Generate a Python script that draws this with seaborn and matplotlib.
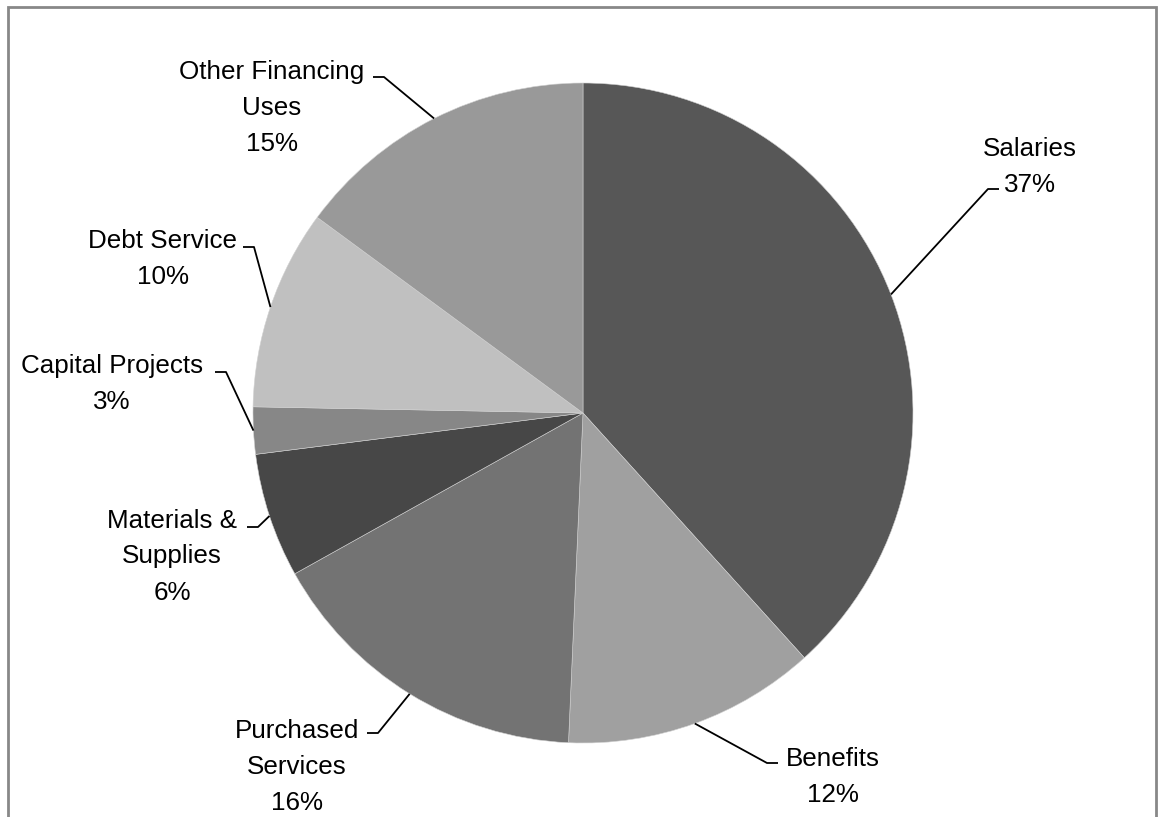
import numpy as np
import matplotlib
matplotlib.use("Agg")
import matplotlib.pyplot as plt
from matplotlib.patches import Rectangle
import seaborn as sns

# ---- data ----
categories = ["Salaries", "Benefits", "Purchased\nServices", "Materials &\nSupplies",
              "Capital Projects", "Debt Service", "Other Financing\nUses"]
shares = [38.3, 12.4, 16.2, 6.1, 2.3, 9.8, 14.9]          # slice sizes
pct_labels = ["37%", "12%", "16%", "6%", "3%", "10%", "15%"]  # printed percentages
colors = ["#575757", "#a0a0a0", "#737373", "#474747", "#878787", "#c0c0c0", "#999999"]

sns.set_theme(style="white")
plt.rcParams['font.family'] = ['Liberation Sans', 'DejaVu Sans']

W, H = 1160, 817
fig = plt.figure(figsize=(W / 100, H / 100), dpi=100)
ax = fig.add_axes([0, 0, 1, 1])

cx, cy, r = 583, H - 413, 330
wedges, _ = ax.pie(shares, colors=colors, startangle=90, counterclock=False,
                   center=(cx, cy), radius=r, frame=True,
                   wedgeprops=dict(linewidth=0.4, edgecolor="#d0d0d0"))
ax.set_xlim(0, W)
ax.set_ylim(0, H)
ax.set_aspect("auto")
ax.axis("off")

LS = 36  # line pitch in px
# label layout: (text center x, first line center y (px from top), elbow x, elbow y, side)
layout = [
    (1030, 146, 999, 189, "right"),
    (833, 757, 778, 763, "right"),
    (297, 728, 367, 733, "left"),
    (172, 518, 247, 527, "left"),
    (112, 363, 215, 372, "left"),
    (163, 238, 243, 247, "left"),
    (272, 69, 373, 77, "left"),
]

for w, cat, pct, (tx, ty, ex, ey, side) in zip(wedges, categories, pct_labels, layout):
    lines = (cat + "\n" + pct).split("\n")
    for i, line in enumerate(lines):
        ax.text(tx, H - (ty + i * LS), line, ha="center", va="center_baseline",
                fontsize=18.7, color="black")
    # leader line from label elbow to the middle of the wedge rim
    mid = np.deg2rad((w.theta1 + w.theta2) / 2)
    px, py = cx + r * np.cos(mid), cy + r * np.sin(mid)
    ex2 = ex - 11 if side == "right" else ex + 11
    ax.plot([ex, ex2, px], [H - ey, H - ey, py],
            color="black", lw=1.3, solid_capstyle="butt")

# chart frame
fig.patches.append(Rectangle((8 / W, -0.02), (1156 - 8) / W, (H - 7) / H + 0.02,
                             transform=fig.transFigure, fill=False,
                             edgecolor="#888888", linewidth=2))
fig.savefig("out.png", dpi=100)
